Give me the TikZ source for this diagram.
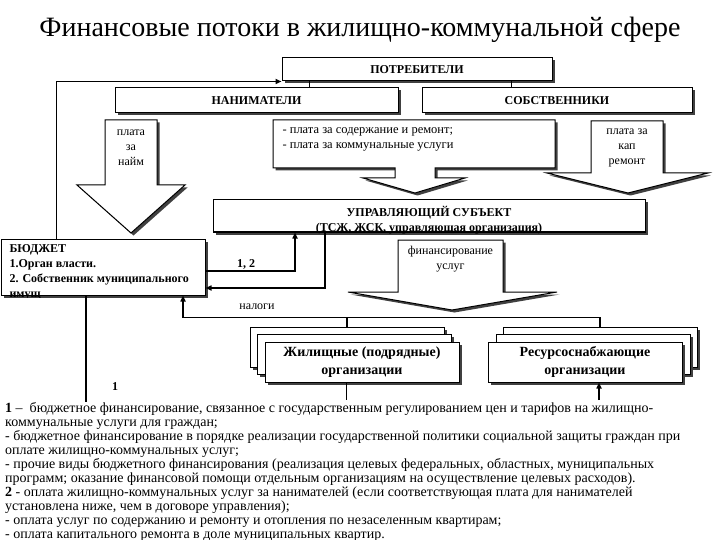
\documentclass[tikz,border=0pt]{standalone}
\usepackage{fontspec}
\setmainfont{Liberation Serif}
\usetikzlibrary{arrows.meta,shadows}
\tikzset{sh/.style={drop shadow={shadow xshift=2.5pt,shadow yshift=-2.5pt,fill=black!75,opacity=1}},
    box/.style={draw,line width=1pt,fill=white,sh,inner sep=0pt},
    stack/.style={box,minimum width=194pt,minimum height=40pt,align=center,
        font=\fontsize{14}{18}\selectfont\bfseries},
    head/.style={font=\fontsize{12}{15}\selectfont\bfseries},
    txt/.style={font=\fontsize{12}{15}\selectfont,align=center},
    blockarrow/.style={draw,line width=1pt,fill=white,sh},
    conn/.style={line width=1.8pt},
    thinconn/.style={line width=0.9pt},
    arr/.style={conn,-{Triangle[length=6pt,width=5pt]}}}

\begin{document}
\begin{tikzpicture}[x=1pt,y=-1pt]
    \useasboundingbox (0,0) rectangle (720,540);
    \node(title)at(360,30){\fontsize{28}{30}\selectfont Финансовые потоки в жилищно-коммунальной сфере};

    \node[box,head,minimum width=270pt,minimum height=23pt](potr)at(417,69.5){ПОТРЕБИТЕЛИ};
    \node[box,head,minimum width=283pt,minimum height=25pt](nanim)at(256.5,100.5){НАНИМАТЕЛИ};
    \node[box,head,minimum width=270pt,minimum height=25pt](sobst)at(557,100.5){СОБСТВЕННИКИ};
    \coordinate(pl)at([xshift=28pt]potr.south west);
    \coordinate(pr)at([xshift=230pt]potr.south west);
    \draw[thinconn](pl)--(pl|-nanim.north);
    \draw[thinconn](pr)--(pr|-sobst.north);

    % payments
    \draw[blockarrow](105,120)--(157,120)--(157,185)--(185,185)--(131,233)--(77,185)--(105,185)--cycle;
    \node[txt](naym)at(131,148){плата\\за\\найм};
    \draw[blockarrow](273,120)--(555,120)--(555,168)--(435,168)--(435,178)--(465,178)--(415,193)
        --(363,178)--(395,178)--(395,168)--(273,168)--cycle;
    \node[txt,align=left,anchor=west,font=\fontsize{12.5}{15}\selectfont](pay)at(279,139.5)
        {- плата за содержание и ремонт;\\- плата за коммунальные услуги};
    \draw[blockarrow](591,121)--(663,121)--(663,173)--(708,173)--(628,193)--(547,173)--(591,173)--cycle;
    \node[txt](kap)at(627,147.5){плата за\\кап\\ремонт};

    \node[box,minimum width=432pt,minimum height=32pt](upr)at(429,216){};
    \node[head,align=center](uprtxt)at(429,220){УПРАВЛЯЮЩИЙ СУБЪЕКТ\\(ТСЖ, ЖСК, управляющая организация)};
    \draw[blockarrow](398,240)--(503,240)--(503,292)--(557,292)--(452,310)--(348,292)--(398,292)--cycle;
    \node[txt](fin)at(450.5,259.5){финансирование\\услуг};

    % budget
    \node[box,minimum width=204pt,minimum height=56pt](budget)at(103,267){};
    \node[head,align=left,anchor=west](budtxt)at(6,265)
        {БЮДЖЕТ\\1.Орган власти.\\2. Собственник муниципального};
    \begin{scope}
        \clip(0,230)rectangle(210,297);
        \node[head,anchor=west](budcut)at(6,296){имущ};
    \end{scope}

    % organisations
    \node[stack](zhb)at(347,347){};
    \node[stack](zhm)at(354,354){};
    \node[stack](zh)at(362,362){Жилищные (подрядные)\\организации};
    \node[stack](rsb)at(600,347){};
    \node[stack](rsm)at(593,354){};
    \node[stack](rs)at(585,362){Ресурсоснабжающие\\организации};

    % flows
    \draw[arr]([xshift=56pt]budget.north west)|-(potr.south west);
    \draw[arr]([yshift=-4pt]budget.east)-|([xshift=-134pt]upr.south);
    \node[head](l12)at(246,264){1, 2};
    \draw[arr]([xshift=-104pt]upr.south)|-([yshift=-21pt]budget.east);
    \draw[arr](rsb.north)--++(0,-9)-|([xshift=80pt]budget.south);
    \draw[conn](zhb.north)--++(0,-9);
    \node[txt](tax)at(257,307){налоги};
    \coordinate(e1)at(86,402);
    \coordinate(e2)at(346,400);
    \coordinate(e3)at(599,400);
    \draw[conn](e1|-budget.south)--(e1);
    \node[head](l1)at(115,387){1};
    \draw[thinconn](e2|-zh.south)--(e2);
    \draw[arr](e3)--(e3|-rs.south);

    \node[anchor=north west,align=left,inner sep=0pt,font=\fontsize{14}{14}\selectfont](notes)at(5,402){%
        {\bfseries 1} –\ \ бюджетное финансирование, связанное с государственным регулированием цен и тарифов на жилищно-\\
        коммунальные услуги для граждан;\\
        - бюджетное финансирование в порядке реализации государственной политики социальной защиты граждан при\\
        оплате жилищно-коммунальных услуг;\\
        - прочие виды бюджетного финансирования (реализация целевых федеральных, областных, муниципальных\\
        программ; оказание финансовой помощи отдельным организациям на осуществление целевых расходов).\\
        {\bfseries 2} - оплата жилищно-коммунальных услуг за нанимателей (если соответствующая плата для нанимателей\\
        установлена ниже, чем в договоре управления);\\
        - оплата услуг по содержанию и ремонту и отопления по незаселенным квартирам;\\
        - оплата капитального ремонта в доле муниципальных квартир.};
\end{tikzpicture}
\end{document}
